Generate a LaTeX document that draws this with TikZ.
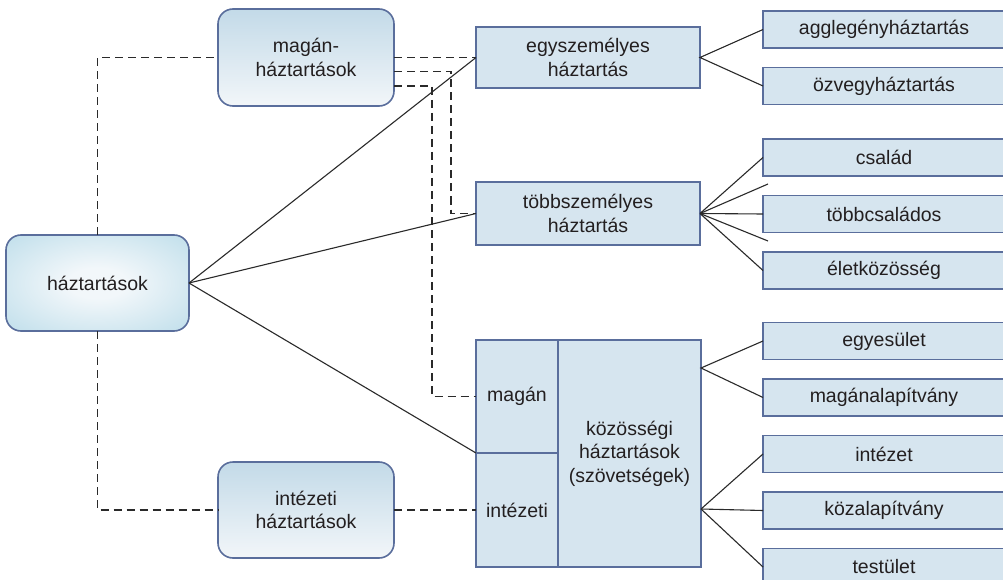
\documentclass[tikz,border=0pt]{standalone}
\usepackage{fontspec}
\setmainfont{Liberation Sans}
\usetikzlibrary{calc}
\definecolor{bord}{HTML}{5A6E9C}
\definecolor{boxfill}{HTML}{D6E5EF}
\definecolor{txt}{HTML}{231F20}
\definecolor{ln}{HTML}{2A2A2A}
\definecolor{hhin}{HTML}{F2F7FA}
\definecolor{hhout}{HTML}{A6D2E3}
\definecolor{mtop}{HTML}{C3DAE8}
\definecolor{mbot}{HTML}{F2F6F9}
\pgfdeclareradialshading{hhshade}{\pgfpoint{0bp}{0bp}}{color(0bp)=(hhin); color(8bp)=(hhin); color(50bp)=(hhout); color(75bp)=(hhout)}
\tikzset{
  every node/.style={font=\fontsize{19.5}{23.5}\selectfont, text=txt, align=center, outer sep=0pt, inner sep=2pt},
  rbox/.style={draw=bord, line width=1.6pt, rounded corners=15pt},
  hhbox/.style={rbox, shading=hhshade},
  vbox/.style={rbox, top color=mtop, bottom color=mbot},
  sbox/.style={draw=bord, fill=boxfill, line width=1.6pt},
  leaf/.style={sbox, minimum width=242pt, minimum height=37pt},
  conn/.style={draw=ln, line width=1.1pt},
  dconn/.style={draw=ln, line width=1.1pt, dash pattern=on 8pt off 5pt},
}
\begin{document}
\begin{tikzpicture}[x=1pt,y=-1pt]
\useasboundingbox (0,0) rectangle (1003,580);
\clip (0,0) rectangle (1003,580);
\fill[white] (0,0) rectangle (1003,580);

% main nodes
\node[hhbox, minimum width=183pt, minimum height=96pt] (hh) at (97.5,283) {háztartások};
\node[vbox, minimum width=176pt, minimum height=97pt] (mh) at (306,57.5) {magán-\\háztartások};
\node[vbox, minimum width=176pt, minimum height=96pt] (ih) at (306,510) {intézeti\\háztartások};

\node[sbox, minimum width=224pt, minimum height=61pt] (egy) at (588,57.5) {egyszemélyes\\háztartás};
\node[sbox, minimum width=224pt, minimum height=63pt] (tobb) at (588,213.5) {többszemélyes\\háztartás};

\node[sbox, minimum width=82pt, minimum height=113pt] (mag) at (517,396.5) {magán};
\node[sbox, minimum width=82pt, minimum height=114pt] (int) at (517,510) {intézeti};
\node[sbox, minimum width=143pt, minimum height=227pt] (koz) at (629.5,453.5) {közösségi\\háztartások\\(szövetségek)};

% leaves
\node[leaf] (r1) at (884,29.5) {agglegényháztartás};
\node[leaf] (r2) at (884,86) {özvegyháztartás};
\node[leaf] (r3) at (884,157.5) {család};
\node[leaf] (r4) at (884,214) {többcsaládos};
\node[leaf] (r5) at (884,270.5) {életközösség};
\node[leaf] (r6) at (884,341) {egyesület};
\node[leaf] (r7) at (884,397.5) {magánalapítvány};
\node[leaf] (r8) at (884,454) {intézet};
\node[leaf] (r9) at (884,510.5) {közalapítvány};
\node[leaf] (r10) at (884,567) {testület};

% helper coordinates
\coordinate (f1) at (768,184);
\coordinate (f2) at (768,241);
\coordinate (k1) at (701,368);
\coordinate (k2) at (701,509);

% solid connectors from háztartások
\draw[conn] (hh.east) -- (egy.west);
\draw[conn] (hh.east) -- (tobb.west);
\draw[conn] (hh.east) -- (mag.south west);

% dashed connectors
\draw[dconn] (hh.north) |- (mh.west);
\draw[dconn] (hh.south) |- (ih.west);
\draw[dconn] (ih.east) -- (int.west);
\draw[dconn] (mh.east) -- (egy.west);
\draw[dconn] ([yshift=-14pt]mh.east) -| ($(tobb.west)+(-25,0)$) -- (tobb.west);
\draw[dconn] ([yshift=-28.5pt]mh.east) -| ($(mag.west)+(-44,0)$) -- (mag.west);

% right-side connectors
\draw[conn] (r1.west) -- (egy.east) -- (r2.west);
\draw[conn] (tobb.east) -- (r3.west);
\draw[conn] (tobb.east) -- (f1);
\draw[conn] (tobb.east) -- (r4.west);
\draw[conn] (tobb.east) -- (f2);
\draw[conn] (tobb.east) -- (r5.west);
\draw[conn] (r6.west) -- (k1) -- (r7.west);
\draw[conn] (k2) -- (r8.west);
\draw[conn] (k2) -- (r9.west);
\draw[conn] (k2) -- (r10.west);
\end{tikzpicture}
\end{document}
